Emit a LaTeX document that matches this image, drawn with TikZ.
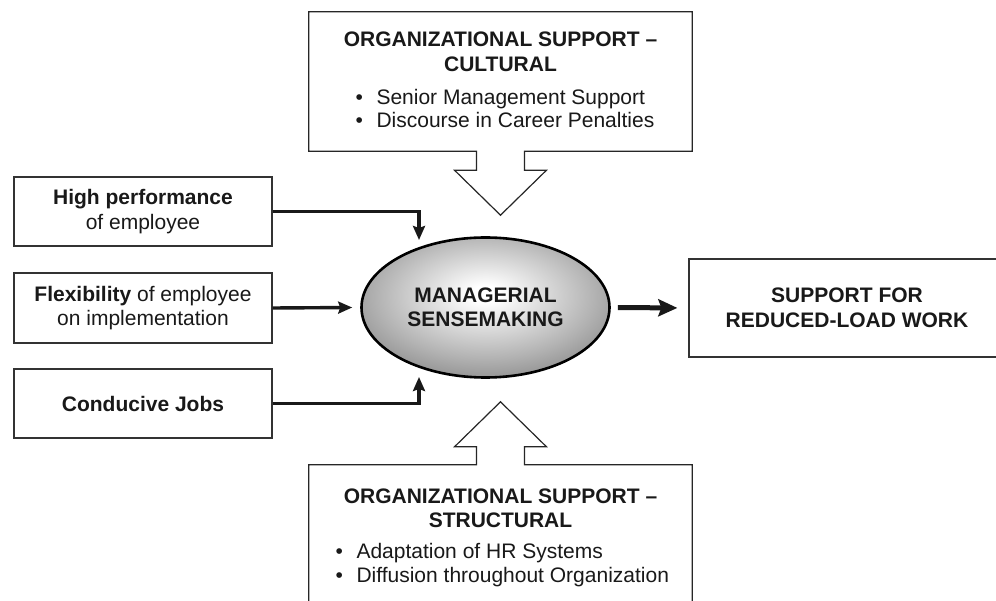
\documentclass[tikz,border=0pt]{standalone}
\usepackage{fontspec}
\setmainfont{Liberation Sans}
\usetikzlibrary{arrows.meta,shapes.geometric,calc}

% soft radial fill for the central ellipse
\pgfdeclareradialshading{sensegrad}{\pgfpoint{0bp}{5bp}}{%
  color(0bp)=(white); color(3bp)=(white);
  color(22bp)=(black!30); color(40bp)=(black!60); color(50bp)=(black!72); color(100bp)=(black!72)}

\begin{document}
\begin{tikzpicture}[x=1pt,y=-1pt,
  txt/.style={font=\fontsize{21}{24.5}\selectfont, text=black!90},
  boldtxt/.style={txt, font=\fontsize{21}{24.5}\selectfont\bfseries},
  box/.style={draw=black!80, line width=1.3pt, fill=white, inner sep=0pt,
              align=center, txt},
  region/.style={inner sep=0pt, rectangle},
  outline/.style={draw=black!85, line width=1.2pt, fill=white, line join=miter},
  conn/.style={line width=3.4pt, draw=black!90,
               -{Stealth[length=14pt,width=12pt,inset=2pt]}},
  mainconn/.style={line width=5pt, draw=black!90,
               -{Stealth[length=19pt,width=17pt,inset=3pt]}},
]
\useasboundingbox (0,0) rectangle (996,601);
\clip (0,0) rectangle (996,601);

% ---- cultural support box with its block arrow ----
\node[region, minimum width=383pt, minimum height=139pt] (cult) at (500.5,81.5) {};
\draw[outline] (cult.north west) -- (cult.north east) -- (cult.south east)
  -- ($(cult.south)+(24,0)$) -- ($(cult.south)+(24,19)$) -- ($(cult.south)+(46,19)$)
  -- ($(cult.south)+(0,64)$) coordinate (cultTip)
  -- ($(cult.south)+(-46,19)$) -- ($(cult.south)+(-24,19)$) -- ($(cult.south)+(-24,0)$)
  -- (cult.south west) -- cycle;
\node[boldtxt, anchor=base] (cultT1) at (500.5,47) {ORGANIZATIONAL SUPPORT –};
\node[boldtxt, anchor=base] (cultT2) at (500.5,72) {CULTURAL};
\node[txt, anchor=base west] (cultB1) at (352,105) {\makebox[21pt][l]{•}Senior Management Support};
\node[txt, anchor=base west] (cultB2) at (352,128) {\makebox[21pt][l]{•}Discourse in Career Penalties};

% ---- structural support box with its block arrow ----
\node[region, minimum width=383pt, minimum height=145pt] (struct) at (500.5,537.5) {};
\draw[outline] (struct.south west) -- (struct.north west)
  -- ($(struct.north)+(-24,0)$) -- ($(struct.north)+(-24,-18)$) -- ($(struct.north)+(-46,-18)$)
  -- ($(struct.north)+(0,-63)$) coordinate (structTip)
  -- ($(struct.north)+(46,-18)$) -- ($(struct.north)+(24,-18)$) -- ($(struct.north)+(24,0)$)
  -- (struct.north east) -- (struct.south east) -- cycle;
\node[boldtxt, anchor=base] (structT1) at (500.5,503) {ORGANIZATIONAL SUPPORT –};
\node[boldtxt, anchor=base] (structT2) at (500.5,527) {STRUCTURAL};
\node[txt, anchor=base west] (structB1) at (332,558) {\makebox[21pt][l]{•}Adaptation of HR Systems};
\node[txt, anchor=base west] (structB2) at (332,582) {\makebox[21pt][l]{•}Diffusion throughout Organization};

% ---- input boxes ----
\node[box, minimum width=258pt, minimum height=69pt] (perf) at (143,211.5)
  {\textbf{High performance}\\of employee};
\node[box, minimum width=258pt, minimum height=70pt] (flex) at (143,308)
  {\textbf{Flexibility} of employee\\on implementation};
\node[box, minimum width=258pt, minimum height=69pt] (jobs) at (143,403.5)
  {\textbf{Conducive Jobs}};

% ---- central ellipse ----
\node[ellipse, draw=black, line width=2.6pt, shading=sensegrad,
      minimum width=248pt, minimum height=140pt, inner sep=0pt,
      align=center, boldtxt] (sense) at (485.5,307.5)
  {MANAGERIAL\\SENSEMAKING};

% ---- outcome box ----
\node[box, minimum width=316pt, minimum height=98pt, font=\fontsize{21}{24.5}\selectfont\bfseries]
  (out) at (847,308) {SUPPORT FOR\\REDUCED-LOAD WORK};

% ---- connectors ----
\coordinate (inTop) at (419,240);
\coordinate (inBot) at (419,377);
\draw[conn] (perf.east) -| (inTop);
\draw[conn] (flex.east) -- ([xshift=-8pt]sense.west);
\draw[conn] (jobs.east) -| (inBot);
\draw[mainconn, shorten <=7pt, shorten >=11pt] (sense.east) -- (out.west);
\end{tikzpicture}
\end{document}
